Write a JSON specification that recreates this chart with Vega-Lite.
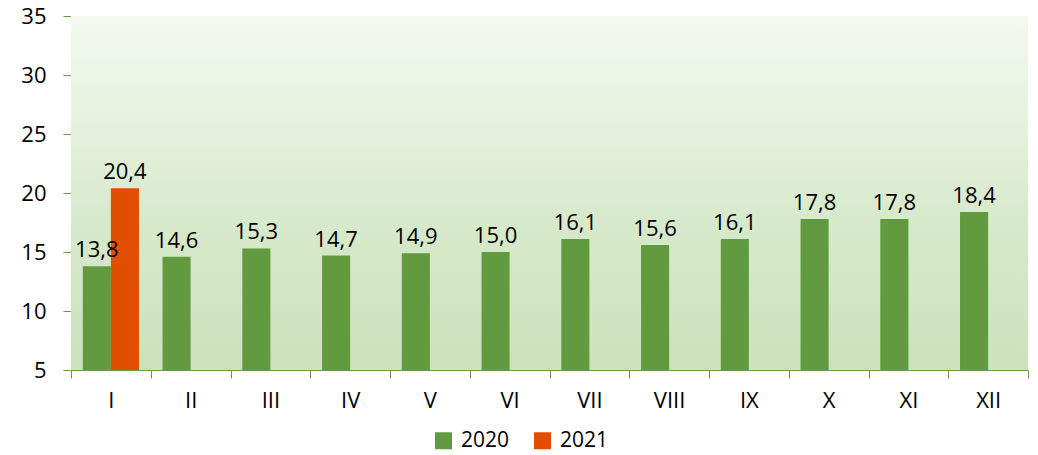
{
  "$schema": "https://vega.github.io/schema/vega-lite/v6.json",
  "width": 957,
  "height": 354,
  "autosize": {"type": "none"},
  "padding": {"left": 71, "top": 16, "right": 10, "bottom": 85},
  "background": "white",
  "config": {
    "locale": {"number": {"decimal": ",", "thousands": ".", "grouping": [3], "currency": ["", " €"]}},
    "view": {"stroke": null},
    "font": "Open Sans"
  },
  "data": {
    "values": [
      {"month": "I", "year": "2020", "value": 13.8},
      {"month": "I", "year": "2021", "value": 20.4},
      {"month": "II", "year": "2020", "value": 14.6},
      {"month": "III", "year": "2020", "value": 15.3},
      {"month": "IV", "year": "2020", "value": 14.7},
      {"month": "V", "year": "2020", "value": 14.9},
      {"month": "VI", "year": "2020", "value": 15.0},
      {"month": "VII", "year": "2020", "value": 16.1},
      {"month": "VIII", "year": "2020", "value": 15.6},
      {"month": "IX", "year": "2020", "value": 16.1},
      {"month": "X", "year": "2020", "value": 17.8},
      {"month": "XI", "year": "2020", "value": 17.8},
      {"month": "XII", "year": "2020", "value": 18.4}
    ]
  },
  "layer": [
    {
      "data": {"values": [{"lo": 5, "hi": 35}]},
      "mark": {
        "type": "rect",
        "color": {
          "gradient": "linear",
          "x1": 0, "y1": 1, "x2": 0, "y2": 0,
          "stops": [
            {"offset": 0, "color": "#cbe2bb"},
            {"offset": 0.4, "color": "#d6e9ca"},
            {"offset": 1, "color": "#f5f9f1"}
          ]
        }
      },
      "encoding": {
        "y": {"field": "lo", "type": "quantitative", "scale": {"domain": [5, 35], "zero": false, "nice": false}},
        "y2": {"field": "hi"}
      }
    },
    {
      "mark": {"type": "bar"},
      "encoding": {
        "x": {
          "field": "month", "type": "nominal",
          "sort": ["I","II","III","IV","V","VI","VII","VIII","IX","X","XI","XII"],
          "scale": {"paddingInner": 0, "paddingOuter": 0},
          "axis": {
            "title": null, "labelAngle": 0, "tickBand": "extent",
            "domainColor": "#6b9a4b", "tickColor": "#6b9a4b", "tickSize": 8,
            "labelFontSize": 22, "labelColor": "#000000", "labelPadding": 12,
            "labelFont": "Open Sans", "grid": false
          }
        },
        "xOffset": {
          "field": "year", "type": "nominal",
          "scale": {"domain": ["2020", "2021"], "paddingInner": 0, "paddingOuter": 0.42}
        },
        "y": {
          "field": "value", "type": "quantitative",
          "scale": {"domain": [5, 35], "zero": false, "nice": false},
          "axis": {
            "title": null, "values": [5,10,15,20,25,30,35], "grid": false,
            "domainColor": "#6b9a4b", "tickColor": "#6b9a4b", "tickSize": 8,
            "labelFontSize": 22, "labelColor": "#000000", "labelPadding": 17,
            "labelFont": "Open Sans"
          }
        },
        "y2": {"datum": 5},
        "color": {
          "field": "year", "type": "nominal",
          "scale": {"domain": ["2020", "2021"], "range": ["#629b3f", "#e24e00"]},
          "legend": {
            "title": null, "orient": "none", "direction": "horizontal",
            "legendX": 362, "legendY": 414,
            "symbolType": "square", "symbolSize": 289, "symbolStrokeWidth": 0,
            "labelFontSize": 21, "labelFont": "Open Sans", "labelColor": "#000000",
            "columnPadding": 22, "labelOffset": 7
          }
        }
      }
    },
    {
      "mark": {"type": "text", "baseline": "alphabetic", "dy": -9, "fontSize": 22, "font": "Open Sans", "color": "#000000"},
      "encoding": {
        "x": {"field": "month", "type": "nominal", "sort": ["I","II","III","IV","V","VI","VII","VIII","IX","X","XI","XII"]},
        "xOffset": {"field": "year", "type": "nominal"},
        "y": {"field": "value", "type": "quantitative", "scale": {"domain": [5, 35], "zero": false, "nice": false}},
        "text": {"field": "value", "type": "quantitative", "format": ".1f"}
      }
    }
  ]
}
